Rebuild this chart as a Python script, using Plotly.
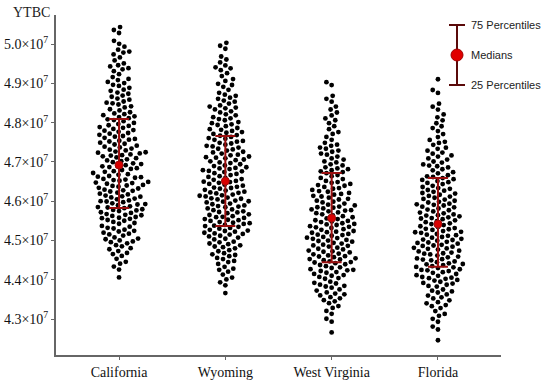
import numpy as np
import plotly.graph_objects as go

# ---------------- data (values in units of 1e7) ----------------
categories = ["California", "Wyoming", "West Virginia", "Florida"]
bin_step = 0.02
bin_start = [4.40, 4.36, 4.26, 4.24]
counts_california = [1, 2, 3, 5, 6, 7, 8, 9, 10, 10, 10, 10, 10, 9, 9, 9, 9,
                     8, 8, 8, 7, 6, 6, 5, 5, 5, 4, 4, 3, 3, 2, 2, 1]
counts_wyoming = [1, 2, 3, 4, 5, 6, 8, 9, 10, 10, 10, 10, 10, 10, 9, 9, 9, 9,
                  8, 8, 8, 7, 6, 6, 5, 5, 4, 3, 3, 3, 2, 2, 1]
counts_west_virginia = [1, 1, 2, 3, 5, 6, 7, 8, 9, 10, 10, 10, 10, 10, 10, 9, 9,
                        8, 8, 7, 6, 6, 5, 5, 4, 3, 3, 3, 2, 2, 2, 1, 1]
counts_florida = [1, 1, 2, 3, 4, 5, 6, 8, 9, 10, 10, 10, 10, 10, 10, 9, 9, 9,
                  8, 8, 7, 6, 6, 5, 5, 4, 3, 3, 2, 2, 2, 1, 1, 1]
bin_counts = [counts_california, counts_wyoming, counts_west_virginia, counts_florida]

q25 = [4.583, 4.537, 4.445, 4.433]
medians = [4.692, 4.651, 4.557, 4.542]
q75 = [4.809, 4.766, 4.672, 4.659]

ytick_vals = [4.3, 4.4, 4.5, 4.6, 4.7, 4.8, 4.9, 5.0]
ytick_text = ["%.1f×10<sup>7</sup>" % v for v in ytick_vals]

# ---------------- layout geometry ----------------
W, H = 550, 383
ML, MR, MT, MB = 56, 49, 15, 28
plot_w = W - ML - MR
plot_h = H - MT - MB
x_range = [-0.593, 3.593]
y_range = [4.2087, 5.0738]
px_per_x = plot_w / (x_range[1] - x_range[0])
px_per_y = plot_h / (y_range[1] - y_range[0])

DOT = 4.8
SEP = 6.0


def expand(start, counts):
    ys = []
    for b, k in enumerate(counts):
        for j in range(k):
            frac = ((j + 0.5) * 0.6180339887 + b * 0.37) % 1.0
            ys.append(start + (b + frac) * bin_step)
    return np.array(ys)


def swarm(ys_px, d):
    order = np.argsort(ys_px)
    placed = []
    xs = np.zeros(len(ys_px))
    for i in order:
        y = ys_px[i]
        nb = [(px, py) for (px, py) in placed if abs(py - y) < d]
        cands = [0.0]
        for px, py in nb:
            dx = np.sqrt(max(d * d - (py - y) ** 2, 0.0))
            cands += [px + dx, px - dx]
        cands.sort(key=lambda c: (abs(c), c))
        chosen = cands[-1]
        for c in cands:
            if all((c - px) ** 2 + (y - py) ** 2 >= d * d - 1e-6 for px, py in nb):
                chosen = c
                break
        xs[i] = chosen
        placed.append((chosen, y))
    return xs


fig = go.Figure()

for gi, name in enumerate(categories):
    ys = expand(bin_start[gi], bin_counts[gi])
    xs_px = swarm(ys * px_per_y, SEP)
    fig.add_trace(go.Scatter(
        x=gi + xs_px / px_per_x, y=ys * 1e7, mode="markers",
        marker=dict(size=DOT, color="#000000", line=dict(width=0)),
        showlegend=False, hoverinfo="skip", cliponaxis=False))

err_color = "#9b0f0f"
fig.add_trace(go.Scatter(
    x=list(range(len(categories))), y=[m * 1e7 for m in medians], mode="markers",
    marker=dict(size=8, color="#d90000", line=dict(width=1, color=err_color)),
    error_y=dict(type="data", symmetric=False,
                 array=[(q75[i] - medians[i]) * 1e7 for i in range(4)],
                 arrayminus=[(medians[i] - q25[i]) * 1e7 for i in range(4)],
                 color=err_color, thickness=2, width=10),
    showlegend=False, hoverinfo="skip"))

# ---------------- legend (custom drawn) ----------------
def px2paper_x(px):
    return (px - ML) / plot_w


def px2paper_y(py):
    return (H - MB - py) / plot_h


lx, ly_top, ly_mid, ly_bot = 457, 25, 55, 85
leg_color = "#5a0a0a"
shapes = [
    dict(type="line", xref="paper", yref="paper",
         x0=px2paper_x(lx), x1=px2paper_x(lx), y0=px2paper_y(ly_top), y1=px2paper_y(ly_bot),
         line=dict(color=leg_color, width=2)),
    dict(type="line", xref="paper", yref="paper",
         x0=px2paper_x(lx - 8), x1=px2paper_x(lx + 8), y0=px2paper_y(ly_top), y1=px2paper_y(ly_top),
         line=dict(color=leg_color, width=2)),
    dict(type="line", xref="paper", yref="paper",
         x0=px2paper_x(lx - 8), x1=px2paper_x(lx + 8), y0=px2paper_y(ly_bot), y1=px2paper_y(ly_bot),
         line=dict(color=leg_color, width=2)),
    dict(type="circle", xref="paper", yref="paper",
         x0=px2paper_x(lx - 6), x1=px2paper_x(lx + 6), y0=px2paper_y(ly_mid + 6), y1=px2paper_y(ly_mid - 6),
         fillcolor="#e00000", line=dict(color="#a00000", width=1)),
]
annotations = []
for txt, yy in [("75 Percentiles", ly_top), ("Medians", ly_mid), ("25 Percentiles", ly_bot)]:
    annotations.append(dict(text=txt, xref="paper", yref="paper",
                            x=px2paper_x(lx + 12), y=px2paper_y(yy),
                            xanchor="left", yanchor="middle", showarrow=False,
                            font=dict(family="Liberation Sans, Arial", size=11, color="#222222")))
annotations.append(dict(text="YTBC", xref="paper", yref="paper",
                        x=px2paper_x(31), y=px2paper_y(12), xanchor="center", yanchor="middle",
                        showarrow=False,
                        font=dict(family="Liberation Serif, Times New Roman", size=14, color="#222222")))

fig.update_layout(
    width=W, height=H, margin=dict(l=ML, r=MR, t=MT, b=MB, autoexpand=False),
    paper_bgcolor="white", plot_bgcolor="white",
    shapes=shapes, annotations=annotations,
    font=dict(family="Liberation Serif, Times New Roman", size=14, color="#111111"),
    xaxis=dict(range=x_range, tickvals=list(range(len(categories))), ticktext=categories,
               automargin=False,
               showgrid=False, zeroline=False, showline=True, linecolor="#666666", linewidth=2,
               ticks="outside", ticklen=3, tickcolor="#666666", tickwidth=1,
               tickfont=dict(size=14, color="#111111")),
    yaxis=dict(range=[y_range[0] * 1e7, y_range[1] * 1e7],
               tickvals=[v * 1e7 for v in ytick_vals], ticktext=ytick_text,
               automargin=False,
               showgrid=False, zeroline=False, showline=True, linecolor="#666666", linewidth=2,
               ticks="outside", ticklen=3, tickcolor="#666666", tickwidth=1,
               tickfont=dict(size=14, color="#111111")),
)

fig.write_html("out.html", config={"displayModeBar": False},
               post_script="document.body.style.margin='0';")
